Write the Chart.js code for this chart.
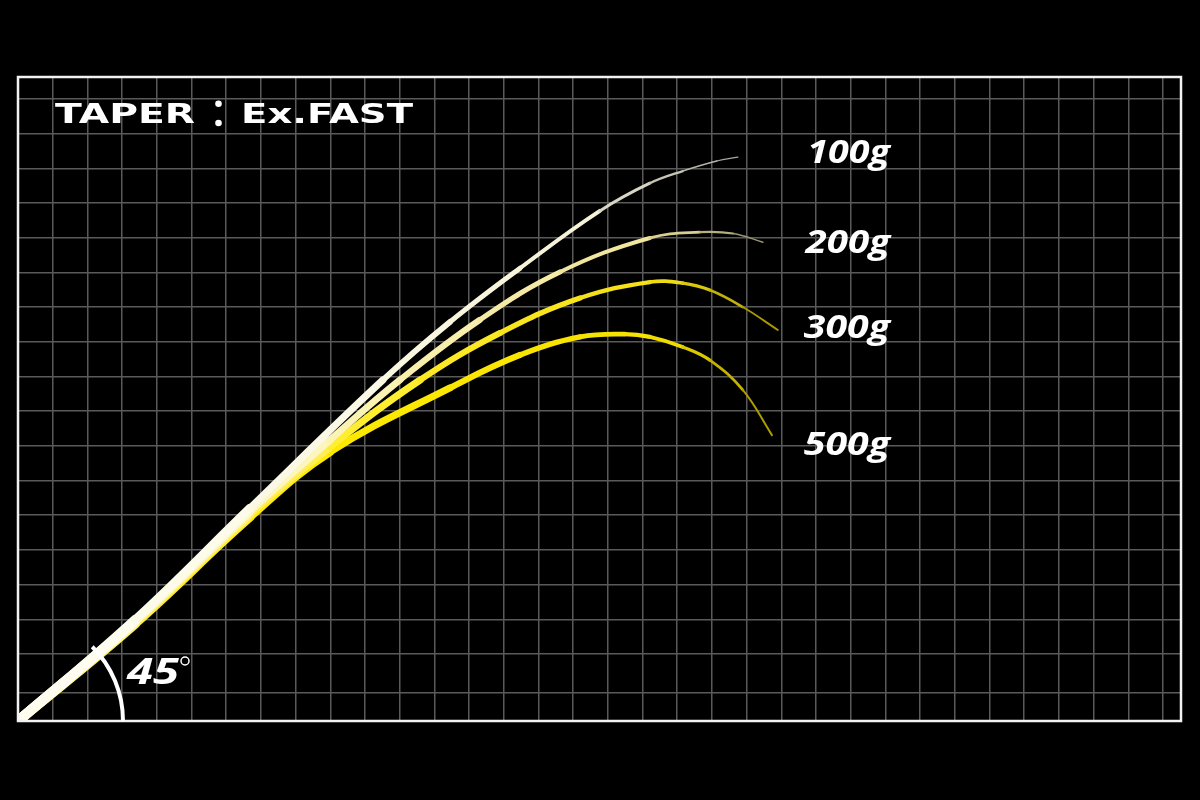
<!DOCTYPE html>
<html>
<head>
<meta charset="utf-8">
<script src="https://cdn.jsdelivr.net/npm/chart.js@4.4.1/dist/chart.umd.min.js"></script>
<style>
    html, body { margin: 0; padding: 0; background: #000; }
    #wrap { width: 1200px; height: 800px; }
</style>
</head>
<body>
<div id="wrap"><canvas id="taper-chart" width="1200" height="800"></canvas></div>
<script>
// 荷重ラベル
const loadLabels = ['100g', '200g', '300g', '500g'];

// 曲線データ（1マス = 1単位、原点は左下）
const x100 = [0, 3.37, 6.69, 10.52, 12.45, 14.47, 16.77, 18.21, 19.16, 20.14, 20.75];
const y100 = [0, 2.91, 6.14, 9.83, 11.50, 13.05, 14.70, 15.50, 15.85, 16.14, 16.25];

const x200 = [0, 3.37, 6.69, 8.99, 11.01, 13.31, 15.62, 18.21, 19.65, 20.61, 21.47];
const y200 = [0, 2.88, 6.05, 8.10, 9.83, 11.56, 12.94, 13.92, 14.09, 14.05, 13.80];

const x300 = [0, 3.37, 6.69, 8.99, 11.59, 13.89, 16.20, 18.21, 19.16, 19.94, 20.89, 21.90];
const y300 = [0, 2.85, 5.97, 7.90, 9.83, 11.18, 12.19, 12.65, 12.62, 12.42, 11.93, 11.27];

const x500 = [0, 3.37, 6.69, 8.99, 12.45, 14.47, 16.20, 17.49, 18.21, 19.16, 19.94, 20.89, 21.73];
const y500 = [0, 2.80, 5.88, 7.75, 9.60, 10.55, 11.07, 11.15, 11.07, 10.78, 10.40, 9.54, 8.24];

// 軸の範囲（マス単位）
const xMax = 33.52;
const yMax = 18.56;

// 色の補間
function mixColor(stops, t) {
    for (let i = 1; i < stops.length; i++) {
        if (t <= stops[i][0]) {
            const [t0, c0] = stops[i - 1];
            const [t1, c1] = stops[i];
            const k = (t - t0) / (t1 - t0);
            const a = parseInt(c0.slice(1), 16), b = parseInt(c1.slice(1), 16);
            const r = Math.round(((a >> 16) & 255) * (1 - k) + ((b >> 16) & 255) * k);
            const g = Math.round(((a >> 8) & 255) * (1 - k) + ((b >> 8) & 255) * k);
            const bl = Math.round((a & 255) * (1 - k) + (b & 255) * k);
            return `rgb(${r},${g},${bl})`;
        }
    }
    return stops[stops.length - 1][1];
}

// 各曲線のスタイル
const curveStyles = [
    { w0: 10.5, w1: 0.8, p: 0.8, stops: [[0, '#fffef2'], [0.75, '#f8f4da'], [1, '#a4a49c']] },
    { w0: 10.5, w1: 1.0, p: 0.75, stops: [[0, '#fffce8'], [0.5, '#fbf2b0'], [0.85, '#eee49a'], [1, '#8e8a6c']] },
    { w0: 10.5, w1: 1.2, p: 0.7, stops: [[0, '#fff8c4'], [0.5, '#ffec28'], [0.85, '#f2de14'], [1, '#9a8c00']] },
    { w0: 10.5, w1: 1.3, p: 0.65, stops: [[0, '#fff268'], [0.35, '#ffea00'], [0.85, '#f6e200'], [1, '#a09200']] }
];

function buildDataset(xs, ys, index) {
    const style = curveStyles[index];
    const last = xs[xs.length - 1];
    const tOf = ctx => ((ctx.p0.parsed.x + ctx.p1.parsed.x) / 2) / last;
    return {
        label: loadLabels[index],
        data: xs.map((x, i) => ({ x: x, y: ys[i] })),
        borderColor: style.stops[0][1],
        borderWidth: style.w0,
        borderCapStyle: 'round',
        borderJoinStyle: 'round',
        pointRadius: 0,
        tension: 0.4,
        fill: false,
        segment: {
            borderWidth: ctx => style.w1 + (style.w0 - style.w1) * Math.pow(1 - tOf(ctx), style.p),
            borderColor: ctx => mixColor(style.stops, tOf(ctx))
        }
    };
}

// 幅を合わせて文字を描く
function drawFitted(ctx, text, left, baseline, width) {
    const w = ctx.measureText(text).width;
    ctx.save();
    ctx.translate(left, baseline);
    ctx.scale(width / w, 1);
    ctx.fillText(text, 0, 0);
    ctx.restore();
}

// 装飾（枠・角度・ラベル・タイトル）
const decorPlugin = {
    id: 'decor',
    afterDraw(chart) {
        const { ctx, chartArea: a, scales: { x, y } } = chart;
        ctx.save();

        // 外枠
        ctx.strokeStyle = '#f2f2f2';
        ctx.lineWidth = 2.5;
        ctx.strokeRect(a.left, a.top, a.right - a.left, a.bottom - a.top);

        // 45°の円弧
        const cx = x.getPixelForValue(0), cy = y.getPixelForValue(0);
        ctx.strokeStyle = '#fff';
        ctx.lineWidth = 4;
        ctx.beginPath();
        ctx.arc(cx, cy, 105, -Math.PI / 4, 0);
        ctx.stroke();

        ctx.fillStyle = '#fff';
        ctx.textBaseline = 'alphabetic';
        ctx.textAlign = 'left';
        ctx.font = 'italic bold 35px "Open Sans"';
        drawFitted(ctx, '45', 127, 684, 52);
        ctx.lineWidth = 1.5;
        ctx.beginPath();
        ctx.arc(185, 661, 4, 0, Math.PI * 2);
        ctx.stroke();

        // 荷重ラベル
        const labelPos = [[22.75, 16.08], [22.7, 13.49], [22.65, 11.04], [22.65, 7.67]];
        ctx.font = 'italic bold 33px "Open Sans"';
        loadLabels.forEach((text, i) => {
            const px = x.getPixelForValue(labelPos[i][0]);
            drawFitted(ctx, text, px, y.getPixelForValue(labelPos[i][1]), 890 - px);
        });

        // タイトル
        ctx.font = 'bold 27px "DejaVu Sans"';
        drawFitted(ctx, 'TAPER', 55, 123, 140);
        drawFitted(ctx, 'Ex.FAST', 241, 123, 172);
        ctx.beginPath();
        ctx.arc(218.5, 103.8, 3.3, 0, Math.PI * 2);
        ctx.arc(218.5, 123, 3.3, 0, Math.PI * 2);
        ctx.fill();

        ctx.restore();
    }
};

// グリッド位置
const gridX = Array.from({ length: 33 }, (_, i) => i + 1).filter(v => v < xMax);
const gridY = [0.82].concat(Array.from({ length: 17 }, (_, i) => 1.93 + i));

const chart = new Chart(document.getElementById('taper-chart'), {
    type: 'line',
    data: {
        datasets: [
            buildDataset(x100, y100, 0),
            buildDataset(x200, y200, 1),
            buildDataset(x300, y300, 2),
            buildDataset(x500, y500, 3)
        ]
    },
    options: {
        responsive: false,
        animation: false,
        events: [],
        layout: { padding: { left: 18, top: 77, right: 19, bottom: 79 } },
        plugins: {
            legend: { display: false },
            tooltip: { enabled: false }
        },
        scales: {
            x: {
                type: 'linear',
                min: 0,
                max: xMax,
                afterBuildTicks: scale => { scale.ticks = gridX.map(v => ({ value: v })); },
                ticks: { display: false },
                border: { display: false },
                grid: { color: '#5a5a5a', lineWidth: 1.5, drawTicks: false }
            },
            y: {
                type: 'linear',
                min: 0,
                max: yMax,
                afterBuildTicks: scale => { scale.ticks = gridY.map(v => ({ value: v })); },
                ticks: { display: false },
                border: { display: false },
                grid: { color: '#5a5a5a', lineWidth: 1.5, drawTicks: false }
            }
        }
    },
    plugins: [decorPlugin]
});
</script>
</body>
</html>
